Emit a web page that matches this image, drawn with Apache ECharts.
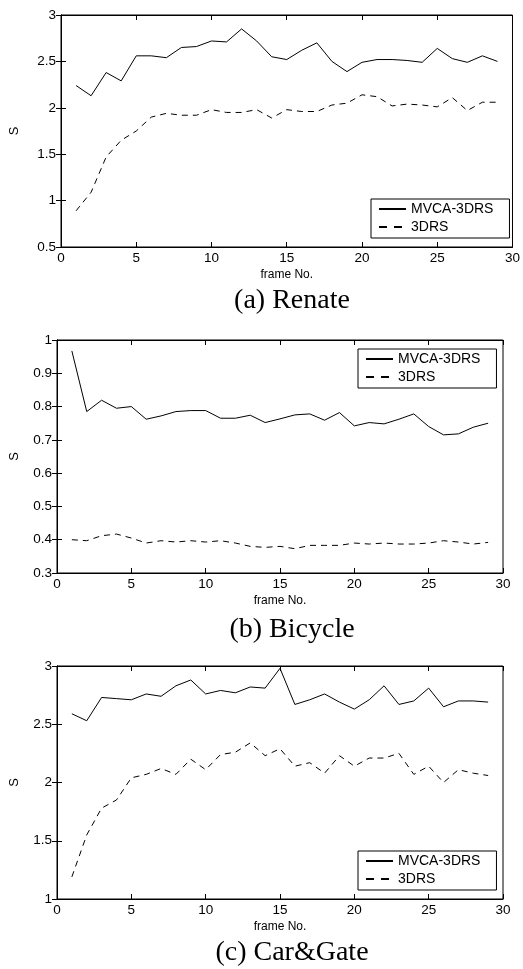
<!DOCTYPE html>
<html>
<head>
<meta charset="utf-8">
<style>
  html, body { margin: 0; padding: 0; background: #fff; }
  #main { width: 523px; height: 969px; }
</style>
<script src="https://cdn.jsdelivr.net/npm/echarts@6/dist/echarts.min.js"></script>
</head>
<body>
<div id="main"></div>
<script>
// frame numbers shared by all three plots
var frames = [1,2,3,4,5,6,7,8,9,10,11,12,13,14,15,16,17,18,19,20,21,22,23,24,25,26,27,28,29];

// (a) Renate
var renateMvca = [2.24,2.13,2.38,2.29,2.56,2.56,2.54,2.65,2.66,2.72,2.71,2.85,2.72,2.55,2.52,2.62,2.70,2.50,2.39,2.49,2.52,2.52,2.51,2.49,2.64,2.53,2.49,2.56,2.50];
var renate3drs = [0.89,1.09,1.47,1.65,1.75,1.90,1.94,1.92,1.92,1.98,1.95,1.95,1.98,1.89,1.98,1.96,1.96,2.03,2.05,2.14,2.12,2.02,2.04,2.03,2.01,2.11,1.97,2.06,2.06];

// (b) Bicycle
var bicycleMvca = [0.967,0.785,0.819,0.795,0.800,0.762,0.772,0.785,0.788,0.788,0.765,0.765,0.774,0.752,0.763,0.775,0.778,0.759,0.782,0.742,0.752,0.748,0.762,0.778,0.740,0.715,0.718,0.738,0.750];
var bicycle3drs = [0.400,0.397,0.412,0.417,0.405,0.390,0.397,0.393,0.397,0.393,0.397,0.390,0.380,0.377,0.380,0.373,0.383,0.383,0.383,0.390,0.387,0.390,0.387,0.387,0.390,0.397,0.393,0.387,0.392];

// (c) Car&Gate
var carMvca = [2.59,2.53,2.73,2.72,2.71,2.76,2.74,2.83,2.88,2.76,2.79,2.77,2.82,2.81,2.98,2.67,2.71,2.76,2.69,2.63,2.71,2.83,2.67,2.70,2.81,2.65,2.70,2.70,2.69];
var car3drs = [1.19,1.55,1.78,1.85,2.04,2.07,2.12,2.07,2.20,2.11,2.24,2.26,2.34,2.23,2.29,2.14,2.17,2.08,2.23,2.14,2.21,2.21,2.25,2.07,2.14,2.00,2.11,2.08,2.06];

var captions = ['(a) Renate', '(b) Bicycle', '(c) Car&Gate'];
var seriesNames = ['MVCA-3DRS', '3DRS'];

var myChart = echarts.init(document.getElementById('main'));

var panels = [
    {mvca: renateMvca, drs: renate3drs, min: 0.5, max: 3, interval: 0.5,
     grid: {left: 57, top: 15, width: 461, height: 232}, legend: {left: 371, top: 199}, captionY: 301, nameGap: 40},
    {mvca: bicycleMvca, drs: bicycle3drs, min: 0.3, max: 1, interval: 0.1,
     grid: {left: 48, top: 340, width: 455, height: 233}, legend: {left: 358, top: 349}, captionY: 630, nameGap: 36},
    {mvca: carMvca, drs: car3drs, min: 1, max: 3, interval: 0.5,
     grid: {left: 48, top: 666, width: 455, height: 233}, legend: {left: 358, top: 851}, captionY: 953, nameGap: 36}
];

function pairs(vals) {
    return frames.map(function (f, i) { return [f, vals[i]]; });
}

var font = 'Liberation Sans, Arial, sans-serif';
var grids = [], xAxes = [], yAxes = [], series = [], legends = [], graphics = [];

panels.forEach(function (p, i) {
    grids.push({
        left: p.grid.left, top: p.grid.top, width: p.grid.width, height: p.grid.height,
        show: true, borderColor: '#000', borderWidth: 1
    });
    // bottom + top x axes (matlab style box with inner ticks)
    xAxes.push({
        type: 'value', gridIndex: i, min: 0, max: 30, interval: 5, position: 'bottom',
        name: 'frame No.', nameLocation: 'middle', nameGap: 22,
        nameTextStyle: {color: '#000', fontSize: 12, fontFamily: font},
        axisLine: {lineStyle: {color: '#000', width: 1}},
        axisTick: {inside: true, length: 5, lineStyle: {color: '#000'}},
        axisLabel: {color: '#000', fontSize: 13.5, fontFamily: font, margin: 4},
        splitLine: {show: false}
    });
    xAxes.push({
        type: 'value', gridIndex: i, min: 0, max: 30, interval: 5, position: 'top',
        axisLine: {lineStyle: {color: '#000', width: 1}},
        axisTick: {inside: true, length: 5, lineStyle: {color: '#000'}},
        axisLabel: {show: false}, splitLine: {show: false}
    });
    // left + right y axes
    yAxes.push({
        type: 'value', gridIndex: i, min: p.min, max: p.max, interval: p.interval, position: 'left',
        name: 'S', nameLocation: 'middle', nameGap: p.nameGap, nameRotate: 90,
        nameTextStyle: {color: '#000', fontSize: 13, fontFamily: font},
        axisLine: {lineStyle: {color: '#000', width: 1}},
        axisTick: {inside: true, length: 5, lineStyle: {color: '#000'}},
        axisLabel: {color: '#000', fontSize: 13.5, fontFamily: font, margin: 5},
        splitLine: {show: false}
    });
    yAxes.push({
        type: 'value', gridIndex: i, min: p.min, max: p.max, interval: p.interval, position: 'right',
        axisLine: {lineStyle: {color: '#000', width: 1}},
        axisTick: {inside: true, length: 5, lineStyle: {color: '#000'}},
        axisLabel: {show: false}, splitLine: {show: false}
    });

    series.push({
        name: seriesNames[0], type: 'line', xAxisIndex: 2 * i, yAxisIndex: 2 * i,
        data: pairs(p.mvca), symbol: 'none', silent: true,
        lineStyle: {color: '#000', width: 1, type: 'solid'}, itemStyle: {color: '#000'}
    });
    series.push({
        name: seriesNames[1], type: 'line', xAxisIndex: 2 * i, yAxisIndex: 2 * i,
        data: pairs(p.drs), symbol: 'none', silent: true,
        lineStyle: {color: '#000', width: 1, type: [6, 5]}, itemStyle: {color: '#000'}
    });

    legends.push({
        left: p.legend.left, top: p.legend.top, orient: 'vertical',
        data: [
            {name: seriesNames[0]},
            {name: seriesNames[1], lineStyle: {type: [8, 7]}}
        ],
        itemWidth: 27, itemHeight: 14, itemGap: 4,
        padding: [3, 16, 4, 7], borderColor: '#000', borderWidth: 1,
        backgroundColor: '#fff', selectedMode: false,
        itemStyle: {opacity: 0},
        textStyle: {color: '#000', fontSize: 14, fontFamily: font}
    });

    graphics.push({
        type: 'text', x: 292, y: p.captionY,
        style: {text: captions[i], font: '28px "Liberation Serif", "Times New Roman", serif',
                fill: '#000', textAlign: 'center', textVerticalAlign: 'middle'}
    });
});

var option = {
    animation: false,
    backgroundColor: '#fff',
    grid: grids,
    xAxis: xAxes,
    yAxis: yAxes,
    legend: legends,
    series: series,
    graphic: graphics
};

myChart.setOption(option);
</script>
</body>
</html>
